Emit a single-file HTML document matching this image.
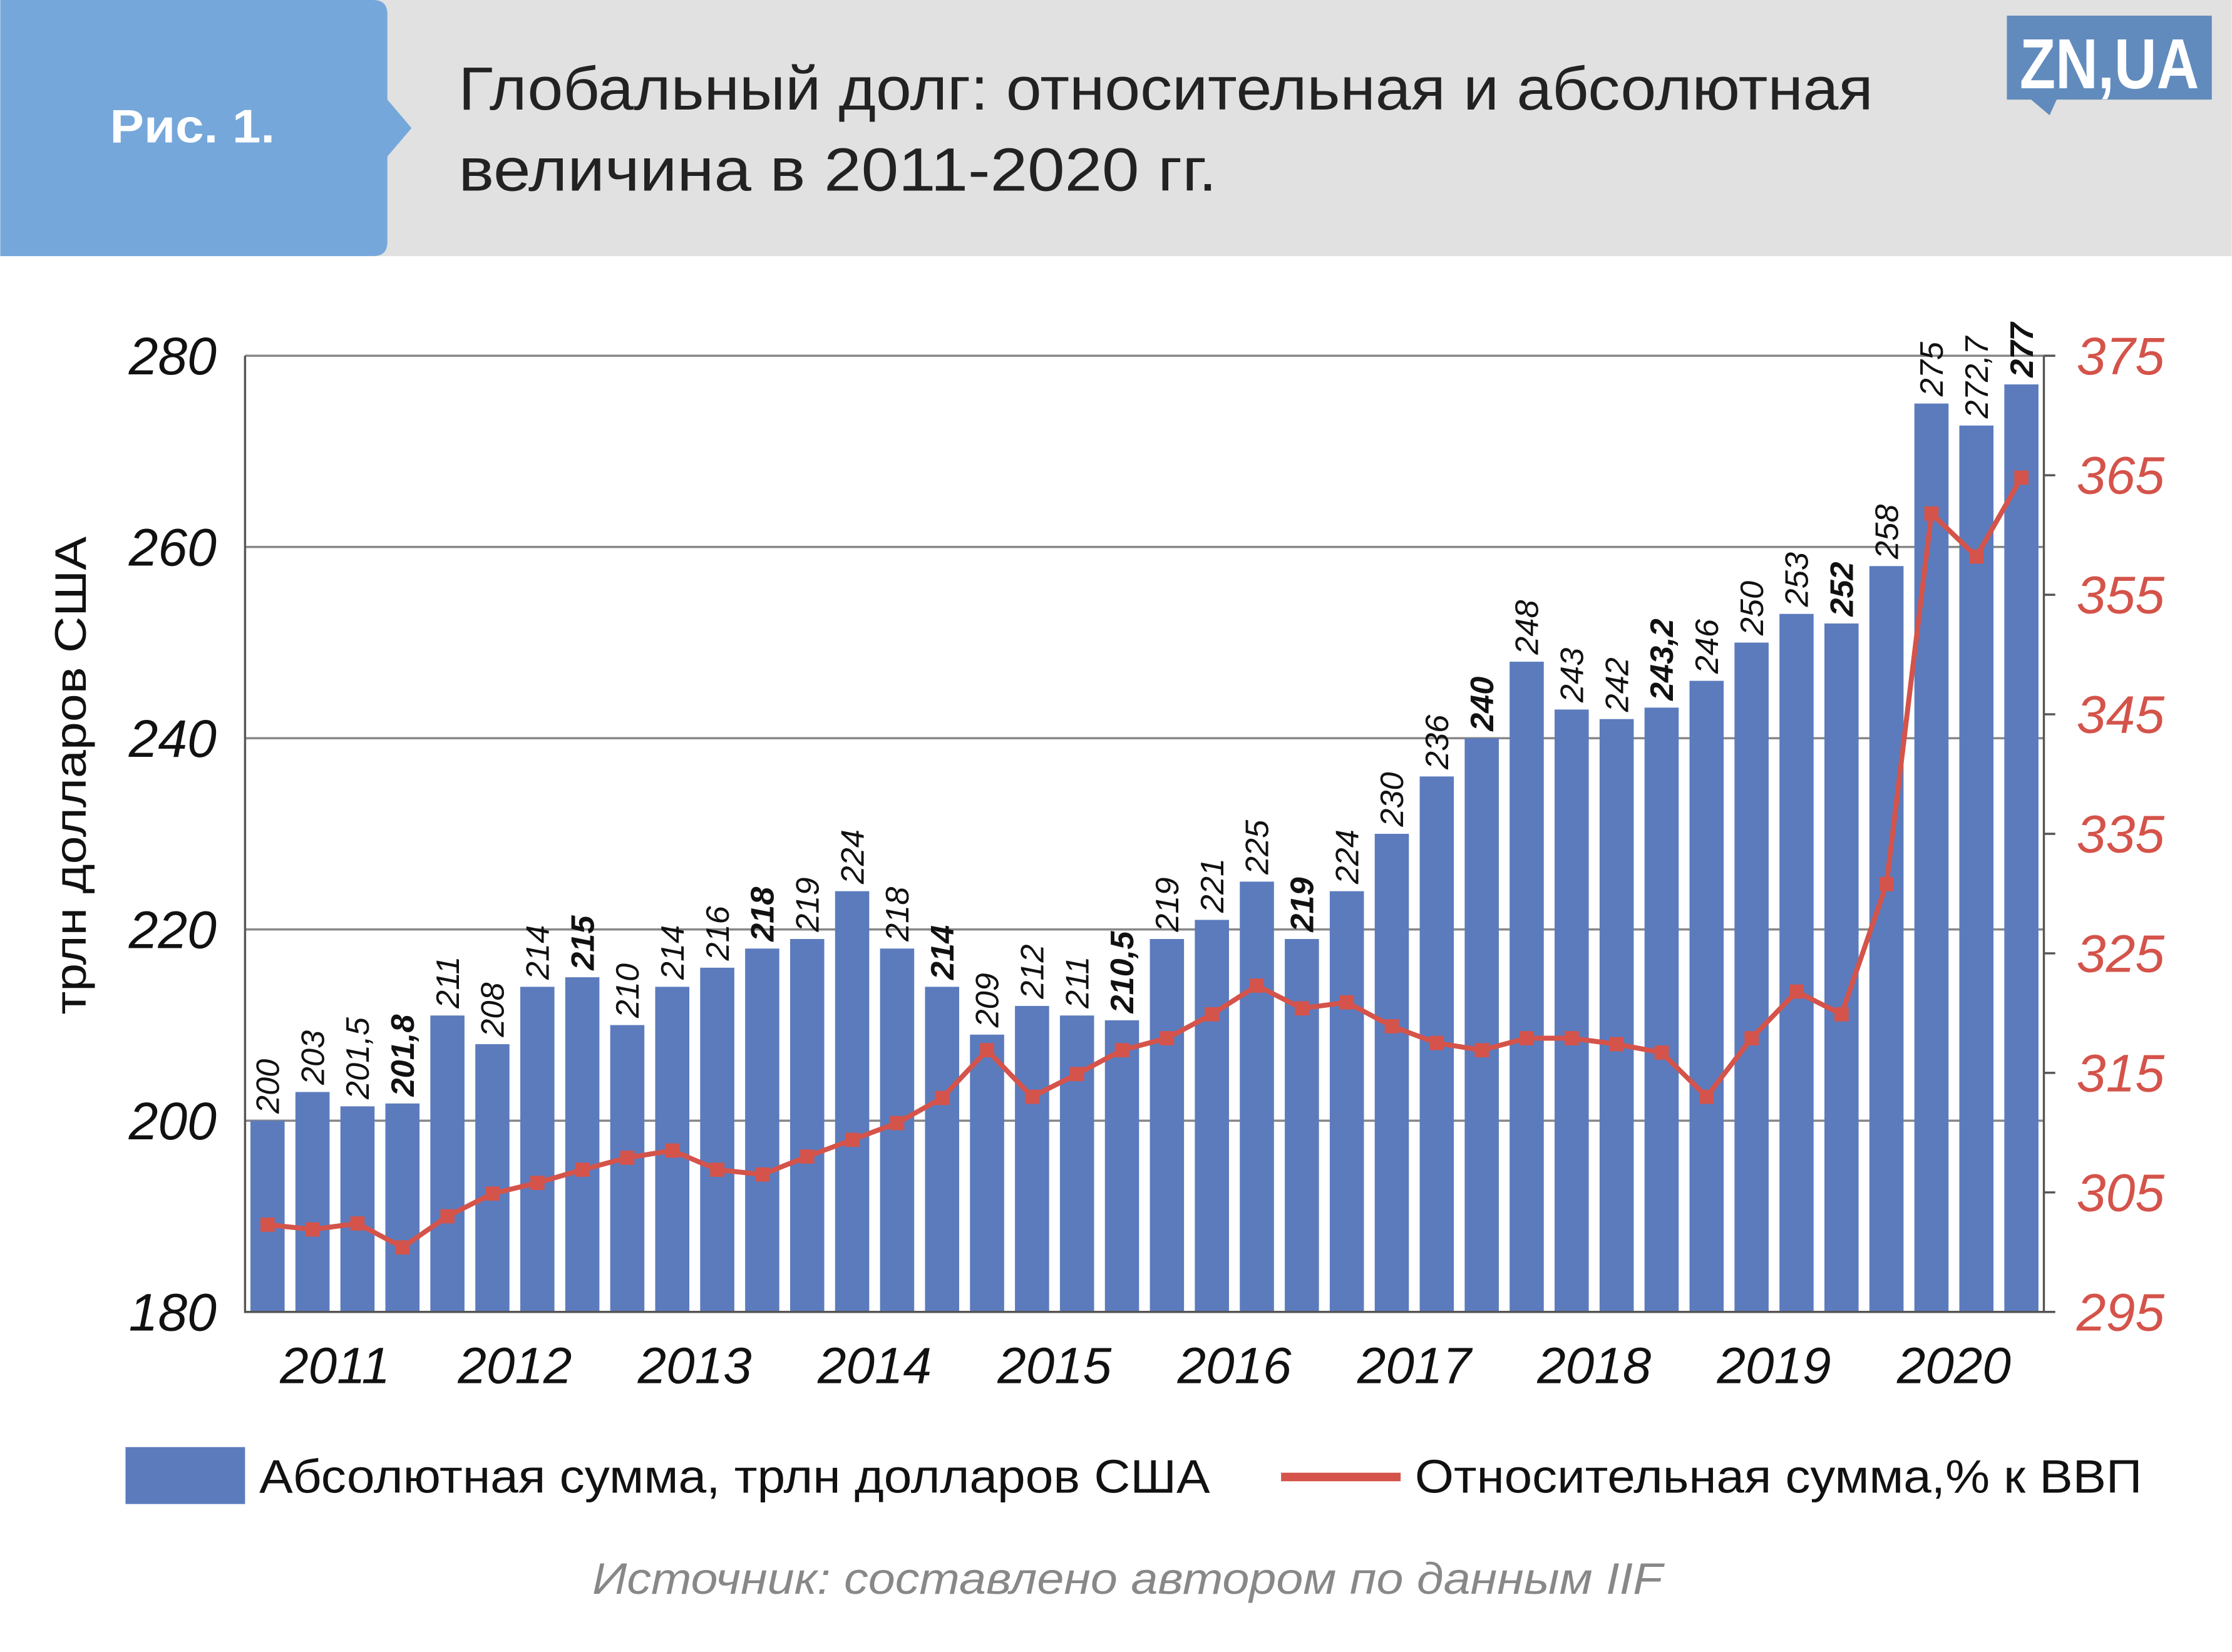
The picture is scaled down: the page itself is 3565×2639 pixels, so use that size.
<!DOCTYPE html>
<html><head><meta charset="utf-8"><style>html,body{margin:0;padding:0;background:#fff}svg{display:block}</style></head>
<body>
<svg id="chart" xmlns="http://www.w3.org/2000/svg" width="3565" height="2639" viewBox="0 0 1568 1161" font-family="'Liberation Sans','DejaVu Sans',sans-serif">
<rect x="0" y="0" width="1568" height="180" fill="#e1e1e1"/>
<path d="M0 0 H262 Q272 0 272 10 V70 L289 90 L272 110 V170 Q272 180 262 180 H0 Z" fill="#76a7da"/>
<text x="77" y="100" textLength="116" lengthAdjust="spacingAndGlyphs" font-size="33" font-weight="bold" fill="#fff">Рис. 1.</text>
<text font-size="43" fill="#222"><tspan x="322" y="77" textLength="994" lengthAdjust="spacingAndGlyphs">Глобальный долг: относительная и абсолютная</tspan><tspan x="322" y="134" textLength="533" lengthAdjust="spacingAndGlyphs">величина в 2011-2020 гг.</tspan></text>
<g>
<path d="M1410 11 H1554 V70 H1445 L1440 81 L1427 70 H1410 Z" fill="#628bbd"/>
<text x="1419" y="62" textLength="126" lengthAdjust="spacingAndGlyphs" font-size="50" font-weight="bold" fill="#fff">ZN,UA</text>
</g>
<g id="plot"></g>
<g>
<rect x="88" y="1017" width="84" height="40" fill="#5b7bbd"/>
<text x="182" y="1049" textLength="668" lengthAdjust="spacingAndGlyphs" font-size="33" fill="#111">Абсолютная сумма, трлн долларов США</text>
<rect x="900" y="1035" width="84" height="6" fill="#d4534a"/>
<text x="994" y="1049" textLength="511" lengthAdjust="spacingAndGlyphs" font-size="33" fill="#111">Относительная сумма,% к ВВП</text>
</g>
<text x="416" y="1120" textLength="752" lengthAdjust="spacingAndGlyphs" font-size="31" font-style="italic" fill="#888">Источник: составлено автором по данным IIF</text>
<text transform="translate(60,545) rotate(-90)" text-anchor="middle" textLength="336" lengthAdjust="spacingAndGlyphs" font-size="31" fill="#111">трлн долларов США</text>
</svg>
<script>
const labels=["200","203","201,5","201,8","211","208","214","215","210","214","216","218","219","224","218","214","209","212","211","210,5","219","221","225","219","224","230","236","240","248","243","242","243,2","246","250","253","252","258","275","272,7","277"];
const absValues=[200,203,201.5,201.8,211,208,214,215,210,214,216,218,219,224,218,214,209,212,211,210.5,219,221,225,219,224,230,236,240,248,243,242,243.2,246,250,253,252,258,275,272.7,277];
const relValues=[302.3,301.9,302.4,300.4,303,304.9,305.8,306.9,307.9,308.5,306.9,306.5,308,309.4,310.8,312.9,316.9,313,314.9,316.9,317.9,319.9,322.3,320.4,320.9,318.9,317.5,316.9,317.9,317.9,317.4,316.7,313,317.9,321.8,319.9,330.8,361.8,358.2,364.8];
const years=["2011","2012","2013","2014","2015","2016","2017","2018","2019","2020"];
const leftTicks=[180,200,220,240,260,280];
const rightTicks=[295,305,315,325,335,345,355,365,375];
const NS="http://www.w3.org/2000/svg";
const g=document.getElementById('plot');
const X0=172,X1=1436,YT=250,YB=922;
const step=(X1-X0)/absValues.length;
const yL=v=>YB-(v-180)/(280-180)*(YB-YT);
const yR=v=>YB-(v-295)/(375-295)*(YB-YT);
const xc=i=>X0+step*(i+0.5);
function mk(t,a){const e=document.createElementNS(NS,t);for(const k in a)e.setAttribute(k,a[k]);g.appendChild(e);return e;}
leftTicks.forEach(t=>{
  if(t>180){const l=mk('line',{x1:X0,x2:X1,y1:yL(t),y2:yL(t),stroke:'#888','stroke-width':1.5});
  
  }
  const tx=mk('text',{x:152,y:yL(t)+13,'text-anchor':'end','font-size':37,'font-style':'italic',fill:'#111'});
  tx.textContent=t;
  
  
});
rightTicks.forEach(t=>{
  const l=mk('line',{x1:X1,x2:X1+8,y1:yR(t),y2:yR(t),stroke:'#555','stroke-width':1.5});
  
  
  const tx=mk('text',{x:1459,y:yR(t)+13,'font-size':37,'font-style':'italic',fill:'#d4534a'});
  tx.textContent=t;
  
  
});
absValues.forEach((v,i)=>{
  const r=mk('rect',{x:xc(i)-12,y:yL(v),width:24,height:YB-yL(v),fill:'#5b7bbd'});
  
  
  const bold=i%4===3;
  const tx=mk('text',{transform:`translate(${xc(i)+8},${yL(v)-5}) rotate(-90)`,'font-size':23,'font-style':'italic','font-weight':bold?'bold':'normal',fill:'#111'});
  tx.textContent=labels[i];
  
  
});
const ax=mk('path',{d:`M${X0} ${YT} V${YB} H${X1} V${YT}`,fill:'none',stroke:'#555','stroke-width':1.5});


const ln=mk('polyline',{points:relValues.map((v,i)=>xc(i)+','+yR(v)).join(' '),fill:'none',stroke:'#d4534a','stroke-width':3.5});


relValues.forEach((v,i)=>{
  const p=mk('rect',{x:xc(i)-5,y:yR(v)-5,width:10,height:10,fill:'#d4534a'});
  
  
});
years.forEach((y,k)=>{
  const tx=mk('text',{x:(xc(4*k)+xc(4*k+3))/2,y:972,'text-anchor':'middle','font-size':36,'font-style':'italic',fill:'#111'});
  tx.textContent=y;
  
  
});
</script>
</body></html>
